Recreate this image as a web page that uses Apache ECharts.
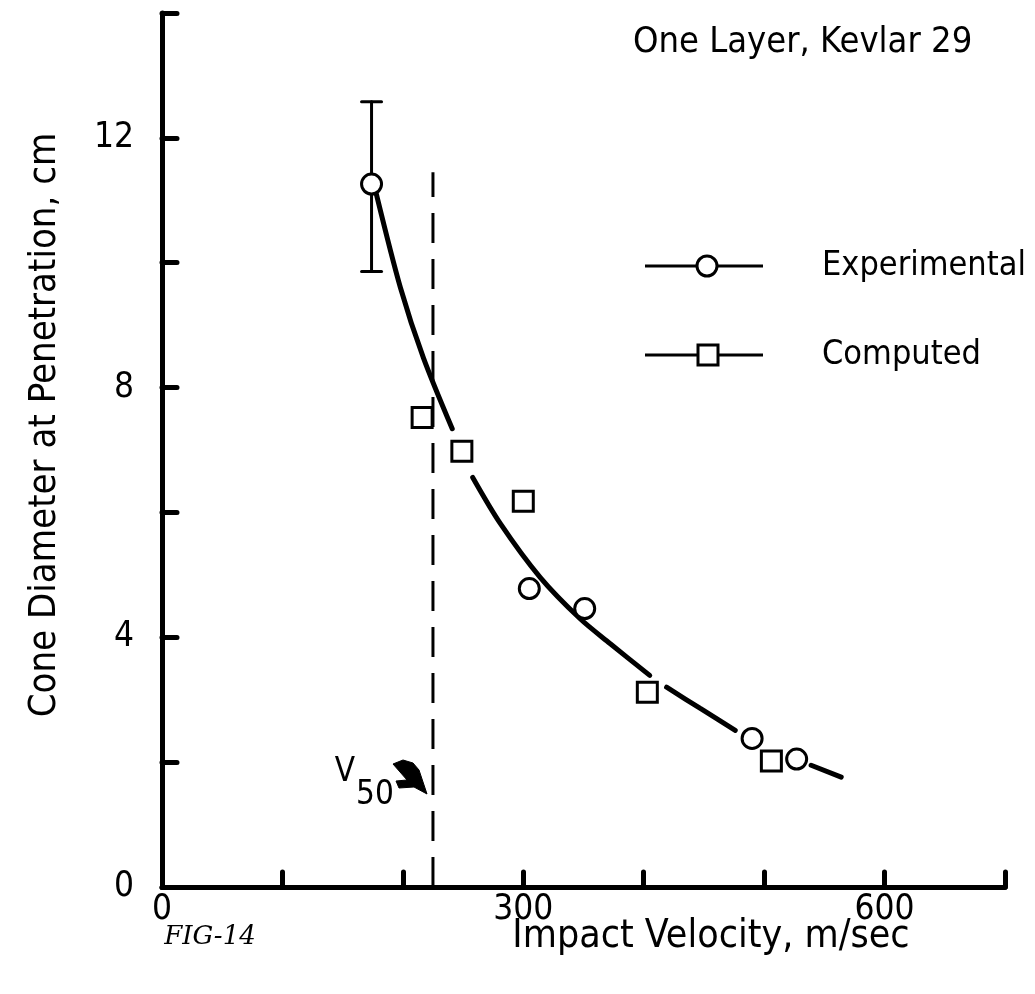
<!DOCTYPE html>
<html><head><meta charset="utf-8">
<script src="https://cdn.jsdelivr.net/npm/echarts@6/dist/echarts.min.js"></script>
<style>html,body{margin:0;padding:0;background:#fff}#c{width:1035px;height:994px}</style>
</head><body><div id="c"></div>
<script>
// ---- data ----
const expX = [174, 305, 351, 490, 527];
const expY = [11.26, 4.78, 4.46, 2.38, 2.05];
const errX = [174];
const errLow = [9.86];
const errHigh = [12.58];
const compX = [216, 249, 300, 403, 506];
const compY = [7.52, 6.98, 6.18, 3.12, 2.02];
const curveX = [178, 198, 217, 241, null, 258, 281, 314, 347, 372, 405, null, 419, 447, 476, null, 539, 564];
const curveY = [11.10, 9.60, 8.48, 7.34, null, 6.56, 5.82, 4.96, 4.30, 3.90, 3.39, null, 3.20, 2.86, 2.51, null, 1.95, 1.76];
const v50X = 225;
const v50Top = 11.45;
const xTickLabels = [0, 300, 600];
const yTickLabels = [0, 4, 8, 12];
const seriesNames = ['Experimental', 'Computed'];
const titleText = 'One Layer, Kevlar 29';
const xName = 'Impact Velocity, m/sec';
const yName = 'Cone Diameter at Penetration, cm';
const figText = 'FIG-14';

const FONT = '"DejaVu Sans Condensed","DejaVu Sans",sans-serif';
const chart = echarts.init(document.getElementById('c'), null, {renderer: 'canvas'});

const curveData = curveX.map((x, i) => (x === null ? ['-', '-'] : [x, curveY[i]]));

const option = {
  backgroundColor: '#fff',
  animation: false,
  grid: {left: 162, right: 30, top: 13, bottom: 107, containLabel: false},
  xAxis: {
    type: 'value', min: 0, max: 700, interval: 100,
    axisLine: {show: true, onZero: false, lineStyle: {color: '#000', width: 5}},
    axisTick: {show: true, inside: true, length: 15, lineStyle: {color: '#000', width: 5, cap: 'round'}},
    axisLabel: {
      show: true, margin: 5, color: '#000', fontFamily: FONT, fontSize: 35,
      formatter: v => (xTickLabels.indexOf(v) >= 0 ? String(v) : '')
    },
    splitLine: {show: false}
  },
  yAxis: {
    type: 'value', min: 0, max: 14, interval: 2,
    axisLine: {show: true, onZero: false, lineStyle: {color: '#000', width: 5}},
    axisTick: {show: true, inside: true, length: 15, lineStyle: {color: '#000', width: 5, cap: 'round'}},
    axisLabel: {
      show: true, margin: 28, color: '#000', fontFamily: FONT, fontSize: 35,
      formatter: v => (yTickLabels.indexOf(v) >= 0 ? String(v) : '')
    },
    splitLine: {show: false}
  },
  series: [
    {
      type: 'line', name: 'v50', data: [[v50X, 0], [v50X, v50Top]],
      symbol: 'none', silent: true, z: 1,
      lineStyle: {color: '#000', width: 3, type: [30, 16], opacity: 1}
    },
    {
      type: 'line', name: 'curve', data: curveData, connectNulls: false,
      smooth: 0.3, symbol: 'none', z: 2,
      lineStyle: {color: '#000', width: 5, cap: 'round', opacity: 1}
    },
    {
      type: 'custom', name: 'errorbar', z: 3,
      data: errX.map((x, i) => [x, errLow[i], errHigh[i]]),
      renderItem: function (params, api) {
        const lo = api.coord([api.value(0), api.value(1)]);
        const hi = api.coord([api.value(0), api.value(2)]);
        const w = 10;
        const st = {stroke: '#000', lineWidth: 3, lineCap: 'round'};
        return {type: 'group', children: [
          {type: 'line', shape: {x1: lo[0], y1: lo[1], x2: hi[0], y2: hi[1]}, style: st},
          {type: 'line', shape: {x1: lo[0] - w, y1: lo[1], x2: lo[0] + w, y2: lo[1]}, style: st},
          {type: 'line', shape: {x1: hi[0] - w, y1: hi[1], x2: hi[0] + w, y2: hi[1]}, style: st}
        ]};
      }
    },
    {
      type: 'scatter', name: seriesNames[0], z: 5,
      data: expX.map((x, i) => [x, expY[i]]),
      symbol: 'circle', symbolSize: 20,
      itemStyle: {color: '#fff', borderColor: '#000', borderWidth: 3, opacity: 1}
    },
    {
      type: 'scatter', name: seriesNames[1], z: 5,
      data: compX.map((x, i) => [x, compY[i]]),
      symbol: 'rect', symbolSize: 20,
      itemStyle: {color: '#fff', borderColor: '#000', borderWidth: 3, opacity: 1}
    }
  ],
  graphic: [
    {type: 'text', x: 633, y: 43, style: {text: titleText, font: '36px ' + FONT, fill: '#000', align: 'left', verticalAlign: 'middle'}},
    // legend
    {type: 'line', shape: {x1: 645, y1: 266, x2: 763, y2: 266}, style: {stroke: '#000', lineWidth: 3}},
    {type: 'circle', shape: {cx: 707, cy: 266, r: 10}, style: {fill: '#fff', stroke: '#000', lineWidth: 3}},
    {type: 'text', x: 822, y: 266, style: {text: seriesNames[0], font: '34px ' + FONT, fill: '#000', align: 'left', verticalAlign: 'middle'}},
    {type: 'line', shape: {x1: 645, y1: 355, x2: 763, y2: 355}, style: {stroke: '#000', lineWidth: 3}},
    {type: 'rect', shape: {x: 698, y: 345, width: 20, height: 20}, style: {fill: '#fff', stroke: '#000', lineWidth: 3}},
    {type: 'text', x: 822, y: 355, style: {text: seriesNames[1], font: '34px ' + FONT, fill: '#000', align: 'left', verticalAlign: 'middle'}},
    // axis names
    {type: 'text', x: 711, y: 937, style: {text: xName, font: '39px ' + FONT, fill: '#000', align: 'center', verticalAlign: 'middle'}},
    {type: 'text', x: 45, y: 425, rotation: Math.PI / 2, style: {text: yName, font: '38px ' + FONT, fill: '#000', align: 'center', verticalAlign: 'middle'}},
    {type: 'text', x: 210, y: 937, style: {text: figText, font: 'italic 26px "DejaVu Serif", serif', fill: '#000', align: 'center', verticalAlign: 'middle'}},
    // V50 annotation
    {type: 'text', x: 345, y: 772, style: {text: 'V', font: '33px ' + FONT, fill: '#000', align: 'center', verticalAlign: 'middle'}},
    {type: 'text', x: 375, y: 795, style: {text: '50', font: '33px ' + FONT, fill: '#000', align: 'center', verticalAlign: 'middle'}},
    {type: 'polygon', shape: {points: [[393, 764], [403, 760], [413, 763], [419, 770], [427, 794], [414, 787], [399, 788], [396, 781], [407, 780]]}, style: {fill: '#000', stroke: '#000', lineWidth: 1, lineJoin: 'round'}}
  ]
};
chart.setOption(option);
</script>
</body></html>
